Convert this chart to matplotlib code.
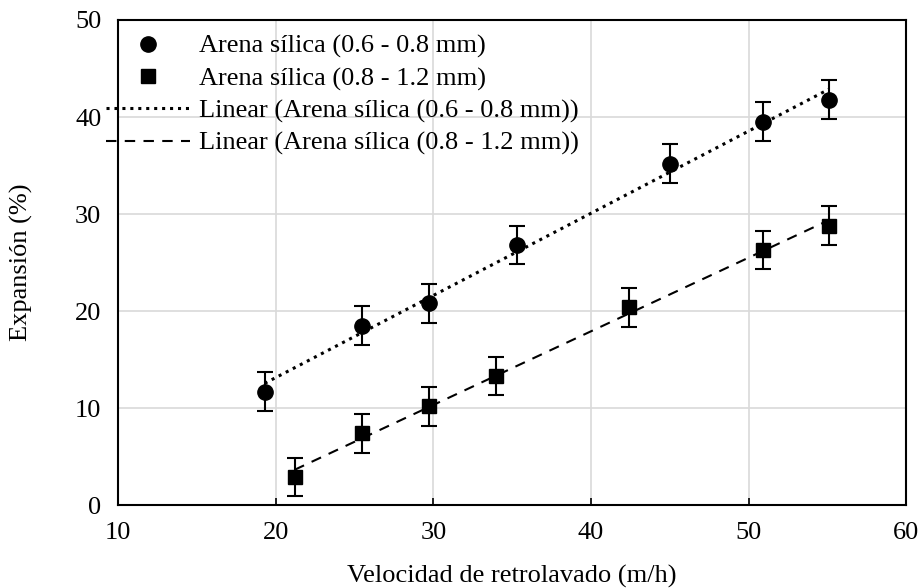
import numpy as np
import matplotlib
matplotlib.use("Agg")
import matplotlib.pyplot as plt
from matplotlib.lines import Line2D

plt.rcParams['font.family'] = ['Liberation Serif', 'DejaVu Serif']

x1 = [19.3, 25.5, 29.7, 35.3, 45.0, 50.9, 55.1]
y1 = [11.7, 18.5, 20.8, 26.8, 35.2, 39.5, 41.8]
x2 = [21.2, 25.5, 29.7, 34.0, 42.4, 50.9, 55.1]
y2 = [2.9, 7.4, 10.2, 13.3, 20.4, 26.3, 28.8]
err = 2.0

lab1 = 'Arena sílica (0.6 - 0.8 mm)'
lab2 = 'Arena sílica (0.8 - 1.2 mm)'

fig = plt.figure(figsize=(9.22, 5.88), dpi=100)
ax = fig.add_axes([0.128, 0.141, 0.855, 0.825])

ax.errorbar(x1, y1, yerr=err, fmt='o', color='black', ms=11, capsize=6, elinewidth=1.5, capthick=1.5, zorder=3)
ax.errorbar(x2, y2, yerr=err, fmt='s', color='black', ms=10.5, capsize=6, elinewidth=1.5, capthick=1.5, zorder=3)

p1 = np.polyfit(x1, y1, 1)
p2 = np.polyfit(x2, y2, 1)
xx1 = np.array([min(x1), max(x1)])
xx2 = np.array([min(x2), max(x2)])
l1, = ax.plot(xx1, np.polyval(p1, xx1), color='black', ls=(0, (1, 1.6)), lw=2.2, label='Linear (' + lab1 + ')', zorder=2)
l2, = ax.plot(xx2, np.polyval(p2, xx2), color='black', ls=(0, (5, 4)), lw=1.5, label='Linear (' + lab2 + ')', zorder=2)

h1 = Line2D([], [], ls='none', marker='o', color='black', ms=11, label=lab1)
h2 = Line2D([], [], ls='none', marker='s', color='black', ms=10.5, label=lab2)

ax.set_xlim(10, 60)
ax.set_ylim(0, 50)
ax.set_xticks(range(10, 61, 10))
ax.set_yticks(range(0, 51, 10))
ax.grid(True, color='#d9d9d9', lw=1.2)
ax.set_axisbelow(True)
for s in ax.spines.values():
    s.set_linewidth(1.5)
ax.tick_params(axis='x', direction='in', length=5, width=1.2, labelsize=19, pad=12)
ax.tick_params(axis='y', length=0, labelsize=19, pad=12)
ax.set_xlabel('Velocidad de retrolavado (m/h)', fontsize=19, labelpad=15)
ax.set_ylabel('Expansión (%)', fontsize=19, labelpad=30)

leg = ax.legend(handles=[h1, h2, l1, l2], loc='upper left', bbox_to_anchor=(-0.046, 1.019),
                frameon=False, fontsize=19, handlelength=3.2, handletextpad=0.36, labelspacing=0.32)

fig.savefig('out.png', dpi=100)
